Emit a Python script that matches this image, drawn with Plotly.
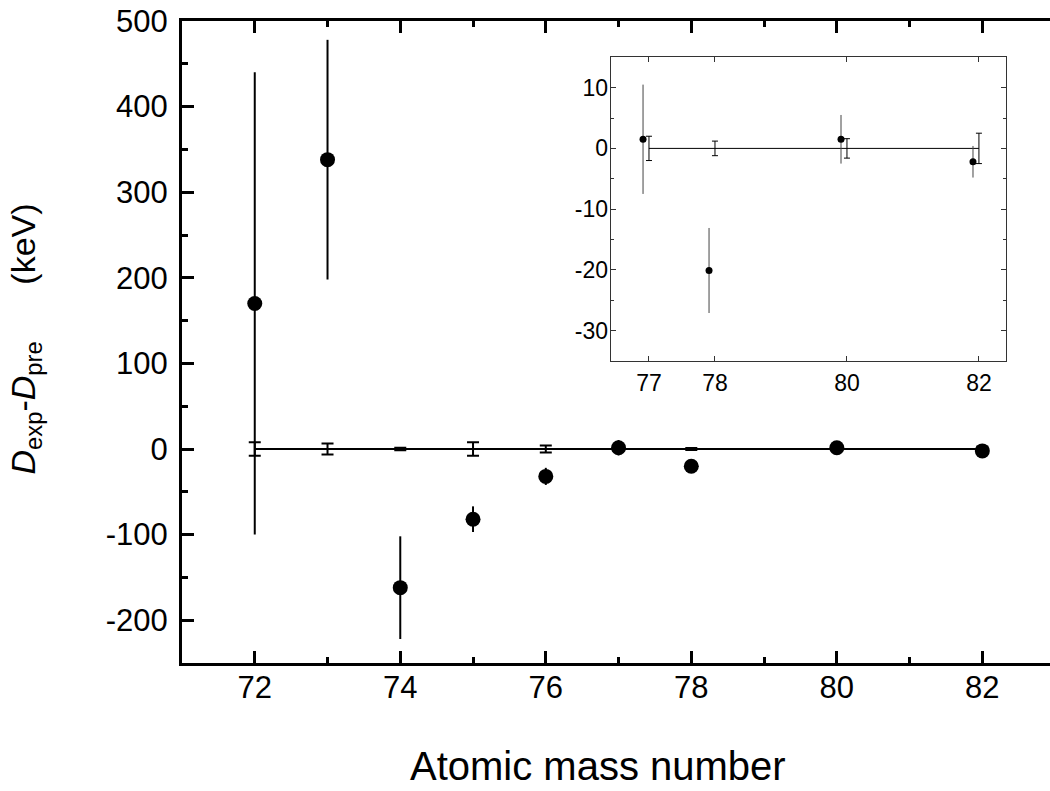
import plotly.graph_objects as go

# atomic mass numbers measured
mass = [72, 73, 74, 75, 76, 77, 78, 80, 82]
# D_exp - D_pre (keV) and its uncertainty
diff = [170, 338, -162, -82, -32, 1.5, -20.1, 1.5, -2.2]
diff_err = [270, 140, 60, 15, 10, 9, 7, 4, 2.6]
# uncertainty of the prediction (drawn around zero)
pred_err = [8, 6.5, 1.5, 8, 4, 2, 1.2, 1.6, 2.5]

# inset: zoom on the heavier masses
inset_mass = [77, 78, 80, 82]
inset_diff = [1.5, -20.1, 1.5, -2.2]
inset_err = [9, 7, 4, 2.6]
inset_pred_err = [2, 1.2, 1.6, 2.5]

x_ticks = [72, 74, 76, 78, 80, 82]
y_ticks = [-200, -100, 0, 100, 200, 300, 400, 500]
inset_y_ticks = [-30, -20, -10, 0, 10]

FONT = "Liberation Sans, Arial, sans-serif"
zeros = [0] * len(mass)
inset_zeros = [0] * len(inset_mass)
# experimental points in the inset are shifted a bit to the left of the prediction
inset_x = [m - 0.09 for m in inset_mass]

fig = go.Figure()

fig.add_trace(go.Scatter(
    x=mass, y=zeros, mode="lines",
    line=dict(color="black", width=2),
    error_y=dict(type="data", array=pred_err, color="black", thickness=2, width=6),
    xaxis="x", yaxis="y", showlegend=False,
))
fig.add_trace(go.Scatter(
    x=mass, y=diff, mode="markers",
    marker=dict(color="black", size=15),
    error_y=dict(type="data", array=diff_err, color="black", thickness=2, width=0),
    xaxis="x", yaxis="y", showlegend=False,
))

# inset
fig.add_trace(go.Scatter(
    x=inset_mass, y=inset_zeros, mode="lines",
    line=dict(color="black", width=1),
    error_y=dict(type="data", array=inset_pred_err, color="black", thickness=1, width=3),
    xaxis="x2", yaxis="y2", showlegend=False,
))
fig.add_trace(go.Scatter(
    x=inset_x, y=inset_diff, mode="markers",
    marker=dict(color="black", size=7),
    error_y=dict(type="data", array=inset_err, color="#444", thickness=1, width=0),
    xaxis="x2", yaxis="y2", showlegend=False,
))

main_axis = dict(showline=True, linecolor="black", linewidth=3, ticks="inside",
                 tickcolor="black", tickwidth=2.5, ticklen=12, showgrid=False,
                 zeroline=False, ticklabeloverflow="allow",
                 tickfont=dict(family=FONT, size=31, color="black"))
inset_axis = dict(showline=True, linecolor="#333", linewidth=1, ticks="inside",
                  tickcolor="#333", tickwidth=1, ticklen=5, showgrid=False,
                  zeroline=False, mirror="ticks",
                  tickfont=dict(family=FONT, size=23, color="black"))

fig.update_layout(
    width=1050, height=791,
    margin=dict(l=182, r=0, t=21, b=128, autoexpand=False),
    plot_bgcolor="white", paper_bgcolor="white",
    xaxis=dict(main_axis, range=[71, 82.93], mirror="ticks",
               tickmode="array", tickvals=x_ticks, ticklabelstandoff=-5,
               minor=dict(tickmode="linear", tick0=71, dtick=1, ticks="inside",
                          ticklen=6, tickwidth=2.5, tickcolor="black")),
    yaxis=dict(main_axis, range=[-250, 500], mirror=False,
               tickmode="array", tickvals=y_ticks,
               ticktext=[str(v) for v in y_ticks],
               ticklabelstandoff=5,
               minor=dict(tickmode="linear", tick0=0, dtick=50, ticks="inside",
                          ticklen=6, tickwidth=2.5, tickcolor="black")),
    yaxis3=dict(overlaying="y", side="right", anchor="x", range=[-250, 500],
                showline=False, showgrid=False, zeroline=False, showticklabels=False,
                ticks="inside", ticklen=8, tickwidth=2.5, tickcolor="black",
                tickmode="array", tickvals=y_ticks,
                minor=dict(tickmode="linear", tick0=0, dtick=50, ticks="inside",
                           ticklen=2, tickwidth=2.5, tickcolor="black")),
    xaxis2=dict(inset_axis, domain=[0.4939, 0.9493], anchor="y2",
                range=[76.42, 82.41], tickmode="array", tickvals=inset_mass,
                ticklabelstandoff=1),
    yaxis2=dict(inset_axis, domain=[0.4704, 0.9435], anchor="x2",
                range=[-35, 15], tickmode="array", tickvals=inset_y_ticks,
                ticktext=[str(v) for v in inset_y_ticks], ticklabelstandoff=-3,
                minor=dict(tickmode="linear", tick0=0, dtick=5, ticks="inside",
                           ticklen=3, tickwidth=1, tickcolor="#333")),
    annotations=[
        dict(text="Atomic mass number", xref="paper", yref="paper",
             x=0.4787, y=-0.16, xanchor="center", yanchor="middle",
             showarrow=False, font=dict(family=FONT, size=40, color="black")),
        dict(text="<i>D</i><sub>exp</sub>-<i>D</i><sub>pre</sub>\u00a0\u00a0\u00a0\u00a0\u00a0\u00a0(keV)",
             xref="paper", yref="paper", x=-0.18, y=0.505,
             xanchor="center", yanchor="middle", textangle=-90,
             showarrow=False, font=dict(family=FONT, size=34, color="black")),
    ],
)

# drop the default body margin so the figure fills the window exactly
fig.write_html("out.html", config={"displayModeBar": False},
               post_script="document.body.style.margin='0';")
